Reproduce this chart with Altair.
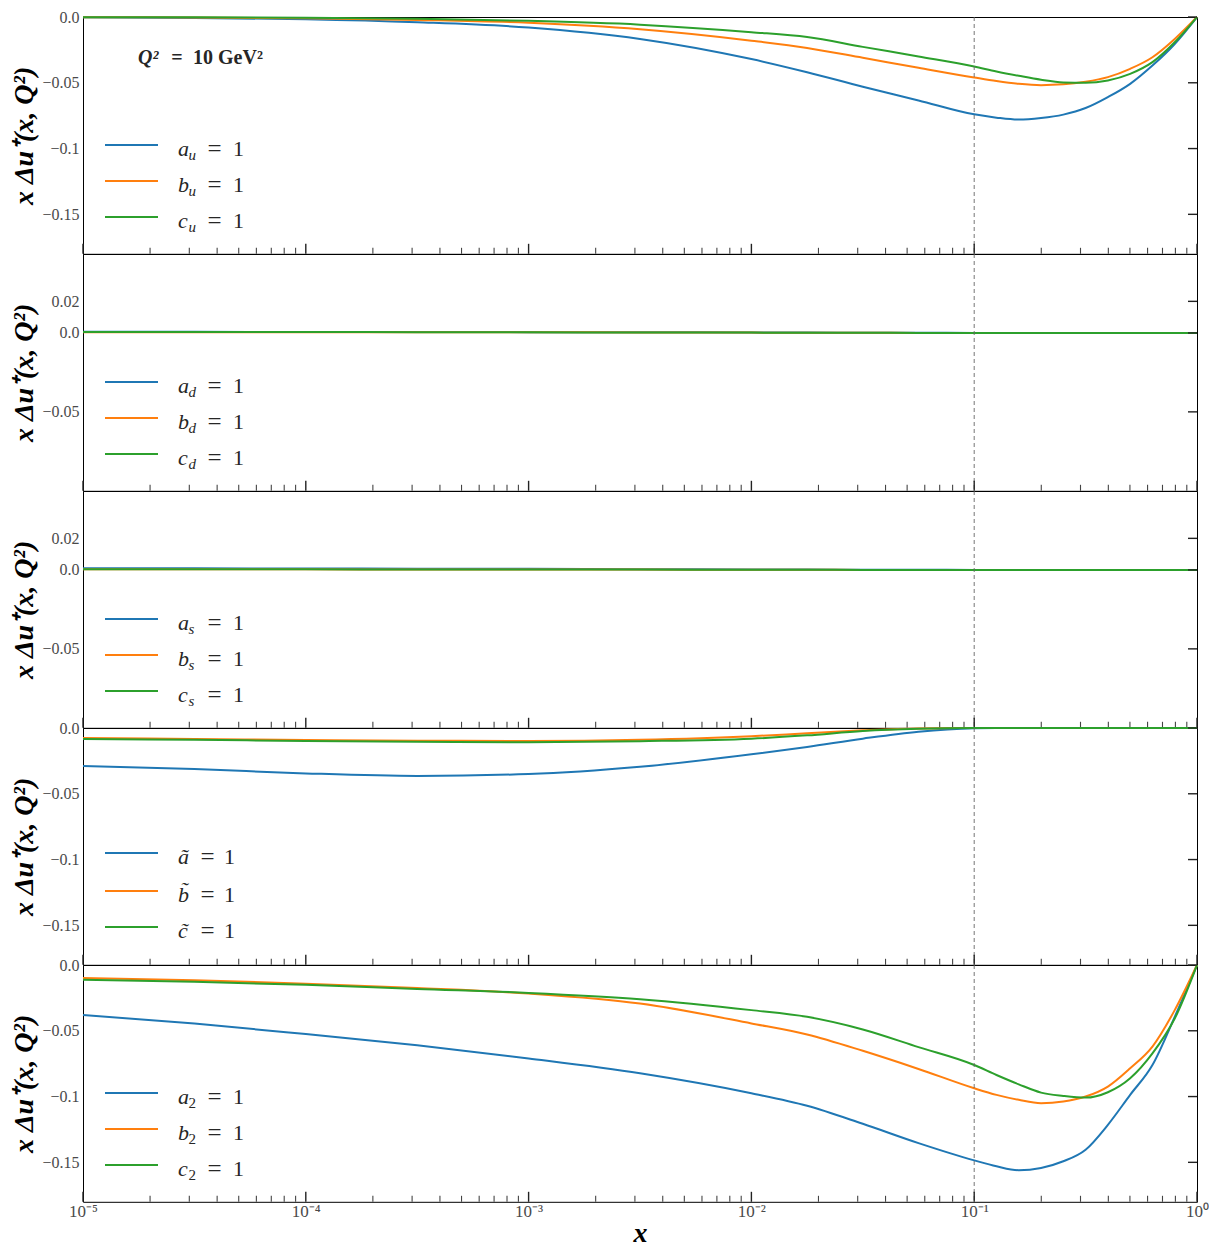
import altair as alt
import pandas as pd

FONT = "Liberation Serif"
GRAY = "#4a4a4a"
TEXT = "#262626"
COLORS = ["#1f77b4", "#ff7f0e", "#2ca02c"]
SERIES = ["1a", "2b", "3c"]

# ---------------- data ----------------
log_x = [-5, -4.5, -4, -3.5, -3, -2.5, -2, -1.75, -1.5, -1.25, -1,
         -0.9, -0.8, -0.7, -0.6, -0.5, -0.4, -0.3, -0.2, -0.1, 0]
x_vals = [10 ** l for l in log_x]

# panel 1 : a_u, b_u, c_u
u_a = [-0.0002, -0.0007, -0.0017, -0.0040, -0.0080, -0.0167, -0.0320, -0.0420, -0.0530, -0.0634, -0.0740,
       -0.0765, -0.0780, -0.0768, -0.0742, -0.0692, -0.0609, -0.0508, -0.0369, -0.0205, 0.0]
u_b = [-0.0001, -0.0004, -0.0009, -0.0022, -0.0044, -0.0093, -0.0180, -0.0235, -0.0310, -0.0386, -0.0460,
       -0.0487, -0.0508, -0.0518, -0.0512, -0.0492, -0.0457, -0.0394, -0.0306, -0.0167, 0.0]
u_c = [-0.0001, -0.0002, -0.0005, -0.0014, -0.0029, -0.0058, -0.0115, -0.0152, -0.0227, -0.0300, -0.0376,
       -0.0414, -0.0447, -0.0477, -0.0497, -0.0500, -0.0482, -0.0432, -0.0343, -0.0192, 0.0]

# panel 2 : a_d, b_d, c_d
d_a = [0.0007, 0.0007, 0.0006, 0.0006, 0.0005, 0.0004, 0.0003, 0.0002, 0.0001, 0.0001, 0.0,
       0.0, 0.0, 0.0, 0.0, 0.0, 0.0, 0.0, 0.0, 0.0, 0.0]
d_b = [0.0005, 0.0005, 0.0005, 0.0004, 0.0004, 0.0003, 0.0002, 0.0001, 0.0001, 0.0, 0.0,
       0.0, 0.0, 0.0, 0.0, 0.0, 0.0, 0.0, 0.0, 0.0, 0.0]
d_c = [0.0006, 0.0006, 0.0006, 0.0005, 0.0004, 0.0003, 0.0002, 0.0001, 0.0001, 0.0, 0.0,
       0.0, 0.0, 0.0, 0.0, 0.0, 0.0, 0.0, 0.0, 0.0, 0.0]

# panel 3 : a_s, b_s, c_s
s_a = [0.0010, 0.0010, 0.0009, 0.0008, 0.0007, 0.0005, 0.0003, 0.0002, 0.0001, 0.0001, 0.0,
       0.0, 0.0, 0.0, 0.0, 0.0, 0.0, 0.0, 0.0, 0.0, 0.0]
s_b = [0.0004, 0.0004, 0.0004, 0.0003, 0.0003, 0.0002, 0.0001, 0.0001, 0.0, 0.0, 0.0,
       0.0, 0.0, 0.0, 0.0, 0.0, 0.0, 0.0, 0.0, 0.0, 0.0]
s_c = [0.0004, 0.0004, 0.0004, 0.0003, 0.0003, 0.0002, 0.0001, 0.0001, 0.0, 0.0, 0.0,
       0.0, 0.0, 0.0, 0.0, 0.0, 0.0, 0.0, 0.0, 0.0, 0.0]

# panel 4 : a~, b~, c~
t_a = [-0.0288, -0.0312, -0.0345, -0.0364, -0.0350, -0.0295, -0.0200, -0.0144, -0.0081, -0.0028, -0.0002,
       0.0, 0.0, 0.0, 0.0, 0.0, 0.0, 0.0, 0.0, 0.0, 0.0]
t_b = [-0.0076, -0.0083, -0.0091, -0.0096, -0.0099, -0.0090, -0.0063, -0.0040, -0.0018, -0.0003, 0.0,
       0.0, 0.0, 0.0, 0.0, 0.0, 0.0, 0.0, 0.0, 0.0, 0.0]
t_c = [-0.0083, -0.0090, -0.0098, -0.0104, -0.0108, -0.0100, -0.0081, -0.0056, -0.0023, -0.0006, 0.0,
       0.0, 0.0, 0.0, 0.0, 0.0, 0.0, 0.0, 0.0, 0.0, 0.0]

# panel 5 : a_2, b_2, c_2
w_a = [-0.0380, -0.0445, -0.0525, -0.0610, -0.0710, -0.0823, -0.0975, -0.1070, -0.1207, -0.1354, -0.1485,
       -0.1530, -0.1560, -0.1543, -0.1492, -0.1404, -0.1215, -0.0987, -0.0760, -0.0394, 0.0]
w_b = [-0.0098, -0.0115, -0.0142, -0.0175, -0.0217, -0.0293, -0.0444, -0.0528, -0.0652, -0.0790, -0.0937,
       -0.0987, -0.1025, -0.1050, -0.1038, -0.1000, -0.0924, -0.0785, -0.0620, -0.0343, 0.0]
w_c = [-0.0112, -0.0128, -0.0150, -0.0182, -0.0212, -0.0260, -0.0343, -0.0394, -0.0490, -0.0624, -0.0760,
       -0.0836, -0.0907, -0.0970, -0.0995, -0.1008, -0.0967, -0.0861, -0.0672, -0.0407, 0.0]

legend_letters = ["a", "b", "c"]
tilde_letters = ["a\u0303", "b\u0303", "c\u0303"]
subs = ["u", "d", "s", None, "2"]

decade_ticks = [1e-5, 1e-4, 1e-3, 1e-2, 1e-1, 1.0]
decade_labels = ["10⁻⁵", "10⁻⁴", "10⁻³", "10⁻²", "10⁻¹", "10⁰"]
minor_ticks = [m * 10.0 ** k for k in range(-5, 0) for m in range(2, 10)]

yt_wide = [0.0, -0.05, -0.1, -0.15]
yl_wide = ["0.0", "−0.05", "−0.1", "−0.15"]
yt_narrow = [0.02, 0.0, -0.05]
yl_narrow = ["0.02", "0.0", "−0.05"]
ydom_wide = [-0.18, 0.0]
ydom_narrow = [-0.1, 0.05]
ref_line_x = [0.1]

Y_TITLE = "x Δu⁺(x, Q²)"

W, H = 1114, 236.8


def label_expr(vals, labels, log=False):
    parts = []
    for v, l in zip(vals, labels):
        if log:
            cond = f"abs(log(datum.value) - log({v!r})) < 0.01"
        else:
            cond = f"abs(datum.value - ({v!r})) < 1e-6"
        parts.append(f"{cond} ? '{l}'")
    return " : ".join(parts) + " : ''"


ONE = pd.DataFrame({"k": [0]})


def txt(text, x, y, size=21, italic=False, bold=False, align="left", color=TEXT):
    kw = dict(text=text, font=FONT, fontSize=size, align=align, baseline="alphabetic", color=color)
    if italic:
        kw["fontStyle"] = "italic"
    if bold:
        kw["fontWeight"] = "bold"
    return alt.Chart(ONE).mark_text(**kw).encode(x=alt.value(x), y=alt.value(y))


def legend_layers(sub, tilde):
    layers = []
    line_y = [125, 163, 199] if tilde else [128, 164, 200]
    eq_x, one_x = (124.5, 146.5) if tilde else (131.5, 155.5)
    for i in range(3):
        ly = line_y[i]
        base = ly + 10.5
        layers.append(alt.Chart(ONE).mark_rule(color=COLORS[i], strokeWidth=2).encode(
            x=alt.value(22), x2=alt.value(75), y=alt.value(ly)))
        letter = tilde_letters[i] if tilde else legend_letters[i]
        layers.append(txt(letter, 95, base, size=22, italic=True))
        if sub:
            layers.append(txt(sub, 105.5, base + 4, size=15, italic=(sub != "2")))
        layers.append(txt("=", eq_x, base + 1, size=25, align="center"))
        layers.append(txt("1", one_x, base, size=22, align="center"))
    return layers


def make_panel(series, ydom, yticks, ylabels, sub, tilde=False, bottom=False, note=False):
    rows = []
    for name, vals in zip(SERIES, series):
        for xv, yv in zip(x_vals, vals):
            rows.append({"x": xv, "y": yv, "s": name})
    df = pd.DataFrame(rows)

    xscale = alt.Scale(type="log", domain=[1e-5, 1.0], nice=False)
    yscale = alt.Scale(domain=ydom, nice=False, zero=False)

    if bottom:
        xaxis = alt.Axis(values=decade_ticks, labelExpr=label_expr(decade_ticks, decade_labels, log=True),
                         ticks=False, tickSize=0, domain=False, grid=False, labelFontSize=17,
                         labelColor=GRAY, labelPadding=2, labelFlush=False, labelFont=FONT,
                         title="x", titleFontSize=28, titleFontStyle="italic", titleFontWeight="bold",
                         titlePadding=0, titleColor="black", titleFont=FONT)
    else:
        xaxis = None

    yaxis = alt.Axis(values=yticks, labelExpr=label_expr(yticks, ylabels), ticks=False, tickSize=0,
                     domain=False, grid=False, labelFontSize=16, labelColor=GRAY, labelPadding=4,
                     labelFont=FONT, title=Y_TITLE, titleFontSize=28, titleFontStyle="italic",
                     titleFontWeight="bold", titlePadding=3, titleColor="black", titleFont=FONT)

    X = lambda f: alt.X(f"{f}:Q", scale=xscale, axis=xaxis)
    Y = lambda f: alt.Y(f"{f}:Q", scale=yscale, axis=yaxis)

    lines = alt.Chart(df).mark_line(strokeWidth=2, interpolate="monotone").encode(
        x=X("x"),
        y=Y("y"),
        color=alt.Color("s:N", scale=alt.Scale(domain=SERIES, range=COLORS), legend=None),
    )

    ref = alt.Chart(pd.DataFrame({"x": ref_line_x})).mark_rule(
        color="#666666", strokeWidth=0.9, strokeDash=[4, 3]).encode(x=X("x"))

    major = alt.Chart(pd.DataFrame({"x": decade_ticks})).mark_rule(
        color="#222222", strokeWidth=1.4).encode(
        x=X("x"), y=alt.value(H), y2=alt.value(H - 10))
    minor = alt.Chart(pd.DataFrame({"x": minor_ticks})).mark_rule(
        color="#444444", strokeWidth=1.1).encode(
        x=X("x"), y=alt.value(H), y2=alt.value(H - 6))
    rticks = alt.Chart(pd.DataFrame({"y": yticks})).mark_rule(
        color="#222222", strokeWidth=1.4).encode(
        y=Y("y"), x=alt.value(W), x2=alt.value(W - 9))

    layers = [lines, ref, major, minor, rticks] + legend_layers(sub, tilde)
    if note:
        layers += [
            txt("Q²", 55, 47, size=20, italic=True, bold=True),
            txt("=", 94, 47, size=20, bold=True, align="center"),
            txt("10 GeV²", 110, 47, size=20, bold=True),
        ]
    return alt.layer(*layers).properties(width=W, height=H)


panels = [
    make_panel([u_a, u_b, u_c], ydom_wide, yt_wide, yl_wide, subs[0], note=True),
    make_panel([d_a, d_b, d_c], ydom_narrow, yt_narrow, yl_narrow, subs[1]),
    make_panel([s_a, s_b, s_c], ydom_narrow, yt_narrow, yl_narrow, subs[2]),
    make_panel([t_a, t_b, t_c], ydom_wide, yt_wide, yl_wide, subs[3], tilde=True),
    make_panel([w_a, w_b, w_c], ydom_wide, yt_wide, yl_wide, subs[4], bottom=True),
]

chart = alt.vconcat(*panels, spacing=0, bounds="flush").properties(
    padding={"left": 2, "top": 0, "right": 0, "bottom": 0},
    background="white",
).configure(font=FONT).configure_view(stroke="black", strokeWidth=1)

chart.save("out.html", embed_options={"renderer": "svg", "actions": False})
